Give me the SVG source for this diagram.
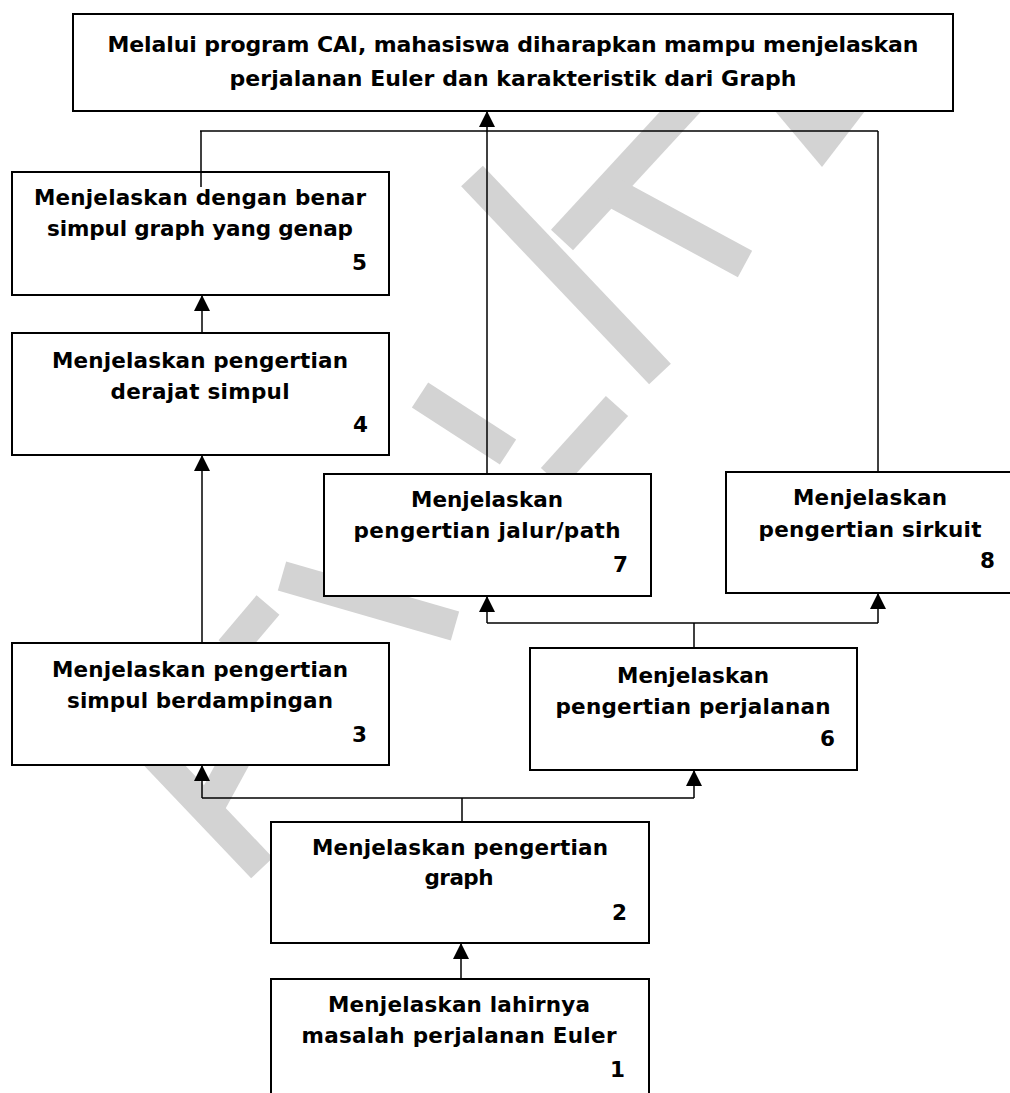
<svg xmlns="http://www.w3.org/2000/svg" width="1010" height="1093" viewBox="0 0 1010 1093">
  <style>
    .wm { stroke: #d3d3d3; stroke-width: 30; fill: none; stroke-linecap: butt; }
    .box { fill: #ffffff; stroke: #000000; stroke-width: 2; }
    .t { font-family: "DejaVu Sans", Verdana, sans-serif; font-weight: bold; font-size: 21.5px; fill: #000000; text-anchor: middle; }
    .title { font-size: 22px; }
    .n { text-anchor: end; }
    .c { stroke: #000000; stroke-width: 1.5; fill: none; }
  </style>
  <defs>
    <marker id="head" markerUnits="userSpaceOnUse" markerWidth="16" markerHeight="16" viewBox="0 0 16 16" refX="15" refY="8" orient="auto">
      <path d="M0,0 L16,8 L0,16 Z" fill="#000000"/>
    </marker>
  </defs>

  <rect x="0" y="0" width="1010" height="1093" fill="#ffffff"/>

  <!-- background watermark strokes -->
  <g id="watermark">
    <line class="wm" x1="562" y1="240" x2="705" y2="85"/>
    <line class="wm" x1="612" y1="192" x2="745" y2="264"/>
    <polygon points="775,111 865,111 822,167" fill="#d3d3d3"/>
    <line class="wm" x1="472" y1="176" x2="660" y2="374"/>
    <line class="wm" x1="617" y1="406" x2="552" y2="478"/>
    <line class="wm" x1="420" y1="395" x2="508" y2="452"/>
    <line class="wm" x1="282" y1="576" x2="455" y2="626"/>
    <line class="wm" x1="268" y1="605" x2="230" y2="650"/>
    <line class="wm" x1="148" y1="748" x2="262" y2="868"/>
    <line class="wm" x1="236" y1="758" x2="212" y2="802"/>
  </g>

  <!-- nodes -->
  <g id="goal">
    <rect class="box" x="73" y="14" width="880" height="97"/>
    <text class="t title" x="513" y="52" textLength="811" lengthAdjust="spacing">Melalui program CAI, mahasiswa diharapkan mampu menjelaskan</text>
    <text class="t title" x="513" y="86" textLength="567" lengthAdjust="spacing">perjalanan Euler dan karakteristik dari Graph</text>
  </g>

  <g id="node5">
    <rect class="box" x="12" y="172" width="377" height="123"/>
    <text class="t" x="200" y="205" textLength="332" lengthAdjust="spacing">Menjelaskan dengan benar</text>
    <text class="t" x="200" y="236" textLength="306" lengthAdjust="spacing">simpul graph yang genap</text>
    <text class="t n" x="367" y="270">5</text>
  </g>

  <g id="node4">
    <rect class="box" x="12" y="333" width="377" height="122"/>
    <text class="t" x="200" y="368" textLength="296" lengthAdjust="spacing">Menjelaskan pengertian</text>
    <text class="t" x="200" y="399" textLength="179" lengthAdjust="spacing">derajat simpul</text>
    <text class="t n" x="368" y="432">4</text>
  </g>

  <g id="node7">
    <rect class="box" x="324" y="474" width="327" height="122"/>
    <text class="t" x="487" y="507" textLength="152" lengthAdjust="spacing">Menjelaskan</text>
    <text class="t" x="487" y="538" textLength="267" lengthAdjust="spacing">pengertian jalur/path</text>
    <text class="t n" x="628" y="572">7</text>
  </g>

  <g id="node8">
    <rect class="box" x="726" y="472" width="288" height="121"/>
    <text class="t" x="870" y="505" textLength="154" lengthAdjust="spacing">Menjelaskan</text>
    <text class="t" x="870" y="537" textLength="223" lengthAdjust="spacing">pengertian sirkuit</text>
    <text class="t n" x="995" y="568">8</text>
  </g>

  <g id="node3">
    <rect class="box" x="12" y="643" width="377" height="122"/>
    <text class="t" x="200" y="677" textLength="296" lengthAdjust="spacing">Menjelaskan pengertian</text>
    <text class="t" x="200" y="708" textLength="266" lengthAdjust="spacing">simpul berdampingan</text>
    <text class="t n" x="367" y="742">3</text>
  </g>

  <g id="node6">
    <rect class="box" x="530" y="648" width="327" height="122"/>
    <text class="t" x="693" y="683" textLength="152" lengthAdjust="spacing">Menjelaskan</text>
    <text class="t" x="693" y="714" textLength="275" lengthAdjust="spacing">pengertian perjalanan</text>
    <text class="t n" x="835" y="746">6</text>
  </g>

  <g id="node2">
    <rect class="box" x="271" y="822" width="378" height="121"/>
    <text class="t" x="460" y="855" textLength="296" lengthAdjust="spacing">Menjelaskan pengertian</text>
    <text class="t" x="459" y="885" textLength="69" lengthAdjust="spacing">graph</text>
    <text class="t n" x="627" y="920">2</text>
  </g>

  <g id="node1">
    <rect class="box" x="271" y="979" width="378" height="130"/>
    <text class="t" x="459" y="1012" textLength="262" lengthAdjust="spacing">Menjelaskan lahirnya</text>
    <text class="t" x="459" y="1043" textLength="315" lengthAdjust="spacing">masalah perjalanan Euler</text>
    <text class="t n" x="625" y="1077">1</text>
  </g>

  <!-- connectors -->
  <g id="connectors">
    <!-- upper bus into the goal box -->
    <line class="c" x1="200" y1="131" x2="878" y2="131"/>
    <line class="c" x1="201" y1="131" x2="201" y2="187"/>
    <line class="c" x1="878" y1="131" x2="878" y2="472"/>
    <line class="c" x1="487" y1="474" x2="487" y2="112" marker-end="url(#head)"/>
    <!-- left column -->
    <line class="c" x1="202" y1="333" x2="202" y2="296" marker-end="url(#head)"/>
    <line class="c" x1="202" y1="643" x2="202" y2="456" marker-end="url(#head)"/>
    <!-- node 6 fan-out -->
    <line class="c" x1="694" y1="648" x2="694" y2="623"/>
    <polyline class="c" points="487,623 487,597" marker-end="url(#head)"/>
    <line class="c" x1="487" y1="623" x2="878" y2="623"/>
    <polyline class="c" points="878,623 878,594" marker-end="url(#head)"/>
    <!-- node 2 fan-out -->
    <line class="c" x1="462" y1="822" x2="462" y2="798"/>
    <line class="c" x1="202" y1="798" x2="694" y2="798"/>
    <line class="c" x1="202" y1="798" x2="202" y2="766" marker-end="url(#head)"/>
    <line class="c" x1="694" y1="798" x2="694" y2="771" marker-end="url(#head)"/>
    <!-- node 1 to node 2 -->
    <line class="c" x1="461" y1="979" x2="461" y2="944" marker-end="url(#head)"/>
  </g>
</svg>
